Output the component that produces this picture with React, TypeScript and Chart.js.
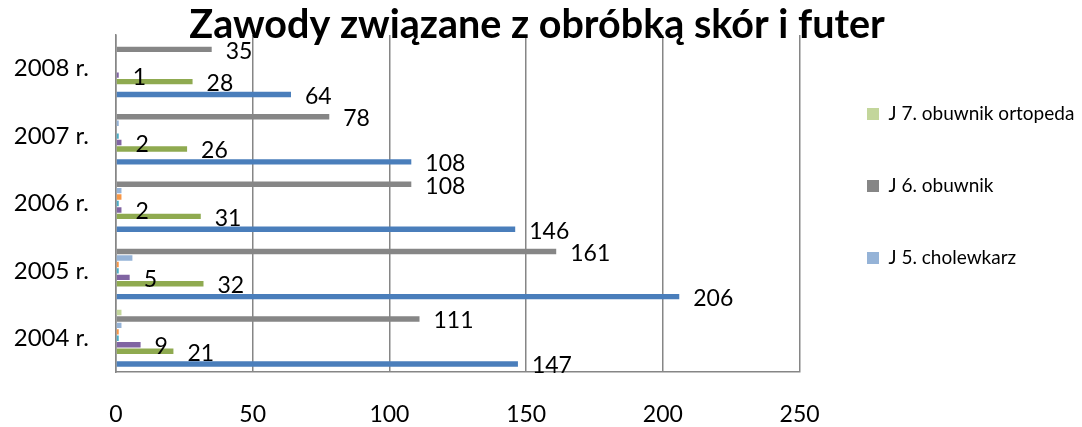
import React, { useEffect, useRef } from 'react';
import { Chart, registerables } from 'chart.js';

Chart.register(...registerables);

// Categories, top to bottom as drawn
const categories = ['2008 r.', '2007 r.', '2006 r.', '2005 r.', '2004 r.'];

// Series values (same order as categories)
const j7Ortopeda = [0, 0, 0, 0, 2];
const j6Obuwnik = [35, 78, 108, 161, 111];
const j5Cholewkarz = [0, 1, 2, 6, 2];
const j4bSeries = [0, 0, 2, 1, 1];
const j4Series = [0, 1, 1, 1, 1];
const j3Series = [1, 2, 2, 5, 9];
const j2Series = [28, 26, 31, 32, 21];
const j1Series = [0, 0, 0, 0, 0];
const razemSeries = [64, 108, 146, 206, 147];

const seriesNames = [
  'J 7. obuwnik ortopeda',
  'J 6. obuwnik',
  'J 5. cholewkarz',
  'J 4b.',
  'J 4.',
  'J 3.',
  'J 2.',
  'J 1.',
  'Razem',
];
const seriesValues = [
  j7Ortopeda, j6Obuwnik, j5Cholewkarz, j4bSeries, j4Series, j3Series, j2Series, j1Series, razemSeries,
];
const seriesColors = [
  '#C3D69B', '#868686', '#95B3D7', '#F79646', '#4BACC6', '#8064A2', '#8FAA50', '#C0504D', '#4A7EBB',
];
const labelledSeries = ['J 6. obuwnik', 'J 3.', 'J 2.', 'Razem'];
const legendSeries = ['J 7. obuwnik ortopeda', 'J 6. obuwnik', 'J 5. cholewkarz'];

const xTicks = [0, 50, 100, 150, 200, 250];

const FONT = 'Lato, "Open Sans", sans-serif';
const W = 1082;
const H = 427;
const PLOT_LEFT = 116;
const PLOT_TOP = 35;
const PLOT_RIGHT = 800;
const PAD_LEFT = 12;
const LEGEND_FONT = 19;
const LEGEND_PAD = 53;
const LEGEND_BOX = 12;
const LEGEND_BOX_X = 867;
const LEGEND_FIRST_Y = 114;

const valueLabels = {
  id: 'valueLabels',
  afterDatasetsDraw(chart: any) {
    const ctx = chart.ctx;
    ctx.save();
    ctx.font = `23px ${FONT}`;
    ctx.fillStyle = '#000';
    ctx.textBaseline = 'middle';
    ctx.textAlign = 'left';
    chart.data.datasets.forEach((ds: any, di: number) => {
      if (!labelledSeries.includes(ds.label)) return;
      const meta = chart.getDatasetMeta(di);
      meta.data.forEach((bar: any, i: number) => {
        ctx.fillText(String(ds.data[i]), bar.x + 14, bar.y + 2);
      });
    });
    ctx.restore();
  },
};

function placeLegend(chart: any) {
  const lg = chart.legend;
  if (!lg) return;
  const w = lg.width;
  const h = lg.height;
  lg.left = LEGEND_BOX_X - LEGEND_PAD;
  lg.right = lg.left + w;
  lg.top = LEGEND_FIRST_Y - LEGEND_FONT / 2 - LEGEND_PAD;
  lg.bottom = lg.top + h;
}

const legendPlace = {
  id: 'legendPlace',
  afterLayout(chart: any) {
    placeLegend(chart);
  },
  beforeDraw(chart: any) {
    placeLegend(chart);
  },
};

function noScalePadding(scale: any) {
  scale.paddingTop = 0;
  scale.paddingBottom = 0;
  scale.paddingLeft = 0;
  scale.paddingRight = 0;
}

export default function App() {
  const ref = useRef<HTMLCanvasElement | null>(null);

  useEffect(() => {
    if (!ref.current) return;
    const m = document.createElement('canvas').getContext('2d')!;
    m.font = `${LEGEND_FONT}px ${FONT}`;
    const textW = Math.max(...legendSeries.map((t) => m.measureText(t).width));
    const legendW = LEGEND_PAD + LEGEND_BOX + LEGEND_FONT / 2 + textW;
    const padRight = Math.max(0, W - PLOT_RIGHT - legendW);
    const titlePadBottom = -10.5;

    const chart = new Chart(ref.current, {
      type: 'bar',
      data: {
        labels: categories,
        datasets: seriesNames.map((name, i) => ({
          label: name,
          data: seriesValues[i],
          backgroundColor: seriesColors[i],
          borderWidth: 0,
          barPercentage: 0.84,
          categoryPercentage: 0.86,
        })),
      },
      options: {
        indexAxis: 'y',
        responsive: false,
        animation: false,
        layout: { padding: { left: PAD_LEFT, right: padRight, top: 0, bottom: 0 } },
        scales: {
          x: {
            min: 0,
            max: 250,
            afterBuildTicks: (scale: any) => {
              scale.ticks = xTicks.map((v) => ({ value: v }));
            },
            afterFit: (scale: any) => {
              scale.height = 55;
              noScalePadding(scale);
            },
            grid: { color: '#868686', lineWidth: 1.5, drawTicks: false },
            border: { display: true, color: '#868686', width: 1.5 },
            ticks: { color: '#000', padding: 29, font: { family: FONT, size: 23 } },
          },
          y: {
            afterFit: (scale: any) => {
              scale.width = PLOT_LEFT - PAD_LEFT;
              noScalePadding(scale);
            },
            grid: { display: false, drawTicks: false },
            border: { display: true, color: '#868686', width: 1.5 },
            ticks: { color: '#000', padding: 27, font: { family: FONT, size: 24 } },
          },
        },
        plugins: {
          title: {
            display: true,
            text: 'Zawody związane z obróbką skór i futer',
            color: '#000',
            font: { family: FONT, size: 39.5, weight: 'bold', lineHeight: 1 },
            padding: { top: 6, bottom: titlePadBottom },
          },
          legend: {
            display: true,
            position: 'right',
            align: 'start',
            labels: {
              color: '#000',
              boxWidth: LEGEND_BOX,
              boxHeight: LEGEND_BOX,
              padding: LEGEND_PAD,
              font: { family: FONT, size: LEGEND_FONT },
              filter: (item: any) => legendSeries.includes(item.text),
            },
          },
          tooltip: { enabled: false },
        },
      },
      plugins: [valueLabels, legendPlace],
    });

    const diffR = chart.chartArea.right - PLOT_RIGHT;
    const diffT = chart.chartArea.top - PLOT_TOP;
    if (Math.abs(diffR) > 0.5 || Math.abs(diffT) > 0.5) {
      (chart.options.layout as any).padding.right = padRight + diffR;
      (chart.options.plugins as any).title.padding = { top: 6, bottom: titlePadBottom - diffT };
      chart.update();
    }
    return () => chart.destroy();
  }, []);

  return (
    <div style={{ position: 'fixed', left: 0, top: 0, width: W, height: H, background: '#fff' }}>
      <canvas ref={ref} width={W} height={H} />
    </div>
  );
}
